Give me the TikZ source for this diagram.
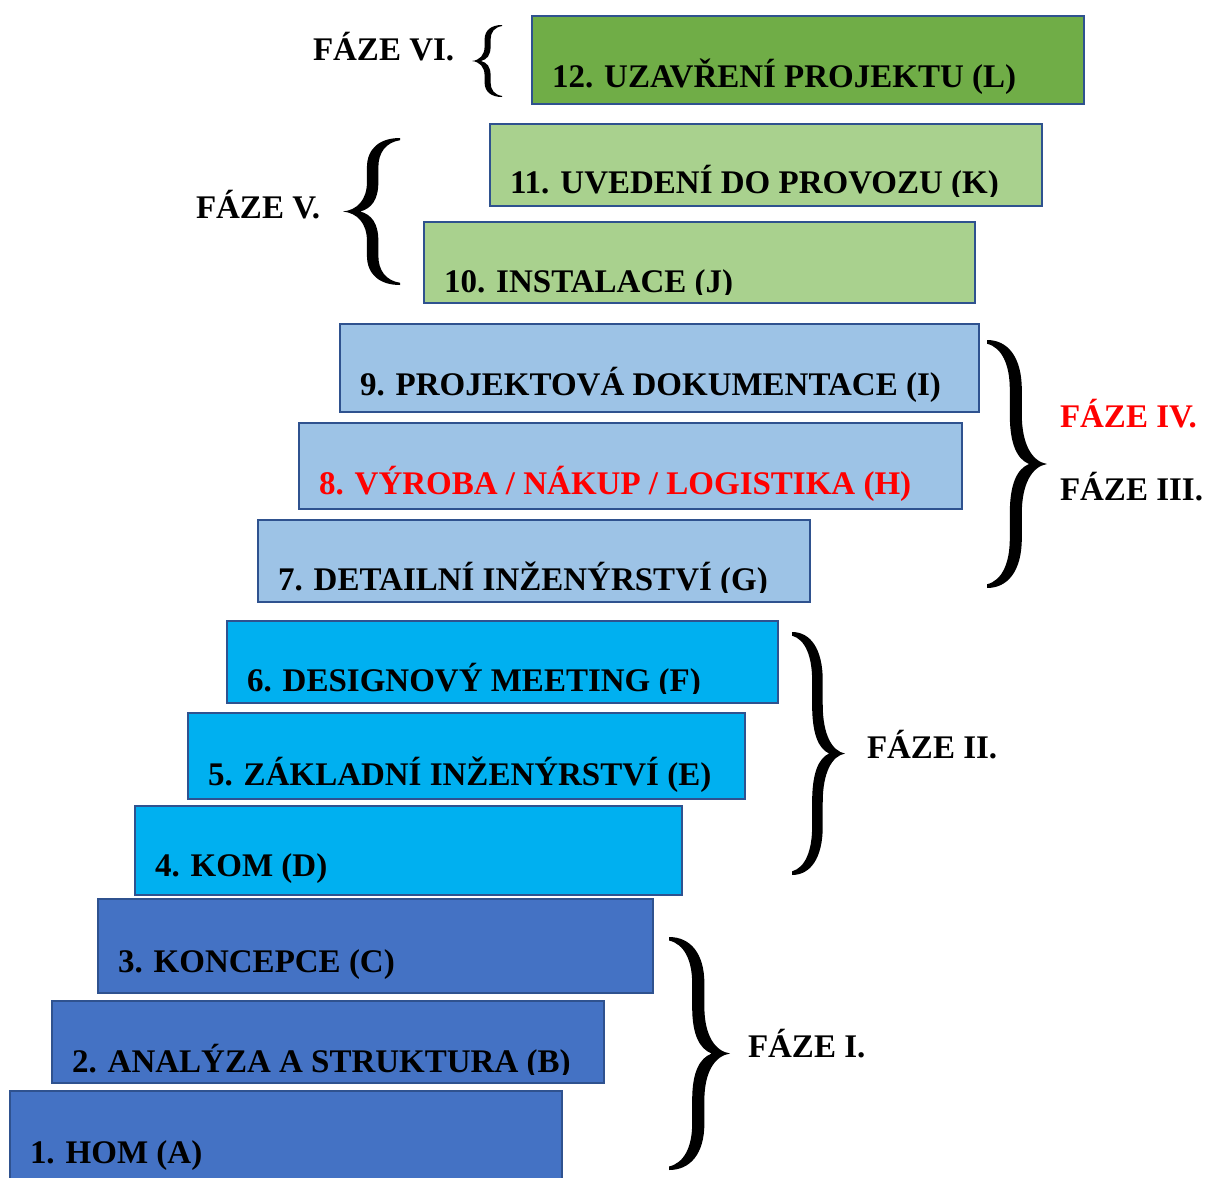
\documentclass[tikz,border=0pt]{standalone}
\usepackage{fontspec}
\setmainfont{Liberation Serif}
\definecolor{cL}{HTML}{70AD47}
\definecolor{cJK}{HTML}{A9D18E}
\definecolor{cGHI}{HTML}{9DC3E6}
\definecolor{cDEF}{HTML}{00B0F0}
\definecolor{cABC}{HTML}{4472C4}
\definecolor{bordc}{HTML}{2F528F}
\definecolor{redc}{HTML}{FF0000}
\tikzset{
  lbl/.style={font=\fontsize{33}{38}\selectfont\bfseries, inner sep=0pt, outer sep=0pt, text=black},
  barbox/.style={inner sep=0pt, outer sep=0pt, anchor=north west},
  bd/.style={draw=bordc, line width=1.8pt},
}
% #1 name, #2 x1, #3 y1, #4 x2, #5 y2, #6 fill, #7 baseline, #8 clip y, #9 text
\newcommand\stepbar[9]{%
  \node[barbox, fill=#6, minimum width={(#4-#2)*1pt}, minimum height={(#5-#3)*1pt}] (#1) at (#2,#3) {};
  \begin{scope}
    \clip (#2,#3) rectangle (#4,#8);
    \node[lbl, anchor=base west] (#1t) at (#2+20,#7) {#9};
  \end{scope}
  \draw[bd] (#1.north west) rectangle (#1.south east);
}
\newcommand\bracefill[4]{%
  \fill[black, shift={(#1,#2)}, xscale=#3, yscale=#4]
    (0,0) .. controls (0.35,0) and (0.58,0.07) .. (0.58,0.2)
    -- (0.58,0.3) .. controls (0.58,0.42) and (0.75,0.49) .. (1,0.5)
    .. controls (0.75,0.51) and (0.58,0.58) .. (0.58,0.7)
    -- (0.58,0.8) .. controls (0.58,0.93) and (0.35,1) .. (0,1)
    -- (0,0.985) .. controls (0.25,0.97) and (0.38,0.9) .. (0.38,0.8)
    -- (0.38,0.7) .. controls (0.38,0.58) and (0.5,0.52) .. (0.7,0.5)
    .. controls (0.5,0.48) and (0.38,0.42) .. (0.38,0.3)
    -- (0.38,0.2) .. controls (0.38,0.1) and (0.25,0.03) .. (0,0.015) -- cycle;
}
\begin{document}
\begin{tikzpicture}[x=1pt, y=-1pt]
\useasboundingbox (0,0) rectangle (1208,1178);
% steps
\stepbar{L}{532}{16}{1084}{104}{cL}{87}{104}{12. UZAVŘENÍ PROJEKTU (L)}
\stepbar{K}{490}{124}{1042}{206}{cJK}{193}{196}{11. UVEDENÍ DO PROVOZU (K)}
\stepbar{J}{424}{222}{975}{303}{cJK}{292}{294}{10. INSTALACE (J)}
\stepbar{I}{340}{324}{979}{412}{cGHI}{395}{412}{9. PROJEKTOVÁ DOKUMENTACE (I)}
\stepbar{H}{299}{423}{962}{509}{cGHI}{494}{509}{\textcolor{redc}{8. VÝROBA / NÁKUP / LOGISTIKA (H)}}
\stepbar{G}{258}{520}{810}{602}{cGHI}{590}{592}{7. DETAILNÍ INŽENÝRSTVÍ (G)}
\stepbar{F}{227}{621}{778}{703}{cDEF}{691}{693}{6. DESIGNOVÝ MEETING (F)}
\stepbar{E}{188}{713}{745}{799}{cDEF}{785}{799}{5. ZÁKLADNÍ INŽENÝRSTVÍ (E)}
\stepbar{D}{135}{806}{682}{895}{cDEF}{876}{895}{4. KOM (D)}
\stepbar{C}{98}{899}{653}{993}{cABC}{972}{993}{3. KONCEPCE (C)}
\stepbar{B}{52}{1001}{604}{1083}{cABC}{1072}{1074}{2. ANALÝZA A STRUKTURA (B)}
\stepbar{A}{10}{1091}{562}{1192}{cABC}{1163}{1192}{1. HOM (A)}
% braces
\bracefill{502}{25}{-30}{72}
\bracefill{400}{138}{-57}{147}
\bracefill{987}{340}{60}{248}
\bracefill{792}{632}{53}{243}
\bracefill{669}{937}{61}{233}
% phase labels
\node[lbl, anchor=base west] (p6) at (313,60) {FÁZE VI.};
\node[lbl, anchor=base west] (p5) at (196,218) {FÁZE V.};
\node[lbl, anchor=base west, text=redc] (p4) at (1060,427) {FÁZE IV.};
\node[lbl, anchor=base west] (p3) at (1060,500) {FÁZE III.};
\node[lbl, anchor=base west] (p2) at (867,758) {FÁZE II.};
\node[lbl, anchor=base west] (p1) at (748,1057) {FÁZE I.};
\end{tikzpicture}
\end{document}
